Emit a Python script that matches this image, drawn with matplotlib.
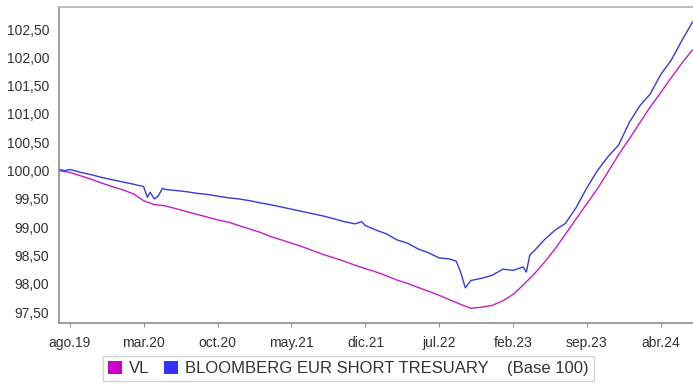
"""Evolucion del VL frente al indice Bloomberg EUR Short Treasury (base 100)"""

import matplotlib
matplotlib.use('agg')
import matplotlib.pyplot as plt
from matplotlib.patches import Patch
import pandas as pd

plt.rcParams['font.family'] = ['Liberation Sans', 'DejaVu Sans']

VL_DATES = pd.date_range("2019-07-01", "2024-07-01", freq="MS")
VL = [100.00, 99.97, 99.91, 99.85, 99.78, 99.72, 99.66, 99.59, 99.47,
      99.40, 99.38, 99.33, 99.28, 99.23, 99.18, 99.13, 99.09, 99.03,
      98.97, 98.91, 98.84, 98.78, 98.72, 98.66, 98.59, 98.52, 98.46,
      98.40, 98.33, 98.27, 98.21, 98.14, 98.07, 98.01, 97.94, 97.87,
      97.80, 97.72, 97.64, 97.57, 97.59, 97.62, 97.70, 97.82, 97.98,
      98.17, 98.38, 98.62, 98.88, 99.15, 99.42, 99.68, 99.98, 100.28,
      100.56, 100.85, 101.12, 101.38, 101.64, 101.90, 102.13]

BENCH_DATES = pd.to_datetime([
    "2019-07-01", "2019-07-20", "2019-08-01", "2019-08-15", "2019-09-01",
    "2019-10-01", "2019-11-01", "2019-12-01", "2020-01-01", "2020-02-01",
    "2020-03-01", "2020-03-12", "2020-03-20", "2020-04-01", "2020-04-12",
    "2020-04-25", "2020-05-01", "2020-06-01", "2020-07-01", "2020-08-01",
    "2020-09-01", "2020-10-01", "2020-11-01", "2020-12-01", "2021-01-01",
    "2021-02-01", "2021-03-01", "2021-04-01", "2021-05-01", "2021-06-01",
    "2021-07-01", "2021-08-01", "2021-09-01", "2021-10-01", "2021-11-01",
    "2021-11-20", "2021-12-01", "2022-01-01", "2022-02-01", "2022-03-01",
    "2022-04-01", "2022-05-01", "2022-06-01", "2022-07-01", "2022-08-01",
    "2022-08-20", "2022-09-01", "2022-09-15", "2022-10-01", "2022-11-01",
    "2022-12-01", "2023-01-01", "2023-02-01", "2023-03-01", "2023-03-10",
    "2023-03-20", "2023-04-01", "2023-05-01", "2023-06-01", "2023-07-01",
    "2023-08-01", "2023-09-01", "2023-10-01", "2023-11-01", "2023-12-01",
    "2024-01-01", "2024-02-01", "2024-03-01", "2024-04-01", "2024-05-01",
    "2024-06-01", "2024-07-01"])
BENCH = [100.02, 100.00, 100.02, 100.00, 99.97,
         99.93, 99.88, 99.84, 99.80, 99.76,
         99.72, 99.53, 99.62, 99.50, 99.55,
         99.69, 99.67, 99.65, 99.63, 99.60,
         99.58, 99.55, 99.52, 99.50, 99.47,
         99.43, 99.40, 99.36, 99.32, 99.28,
         99.24, 99.20, 99.15, 99.10, 99.06,
         99.10, 99.03, 98.95, 98.88, 98.78,
         98.72, 98.62, 98.55, 98.46, 98.44,
         98.40, 98.22, 97.93, 98.06, 98.10,
         98.15, 98.26, 98.24, 98.30, 98.21,
         98.51, 98.58, 98.78, 98.95, 99.07,
         99.35, 99.70, 100.00, 100.25, 100.45,
         100.85, 101.15, 101.35, 101.70, 101.95,
         102.30, 102.62]

TICK_DATES = pd.date_range("2019-08-01", periods=9, freq="7MS")
TICK_LABELS = ["ago.19", "mar.20", "oct.20", "may.21", "dic.21",
               "jul.22", "feb.23", "sep.23", "abr.24"]
Y_TICKS = [97.5, 98.0, 98.5, 99.0, 99.5, 100.0, 100.5, 101.0, 101.5,
           102.0, 102.5]

VL_COLOR = "#c41ec4"
BENCH_COLOR = "#3a3ad8"


def main():
    """Main function"""
    fig = plt.figure(figsize=(6.93, 3.85), dpi=100)
    ax = fig.add_axes([0.0851, 0.161, 0.915, 0.821])

    ax.plot(VL_DATES, VL, color=VL_COLOR, lw=1.0)
    ax.plot(BENCH_DATES, BENCH, color=BENCH_COLOR, lw=1.0)

    ax.set_xlim(pd.Timestamp("2019-07-01"), pd.Timestamp("2024-07-03"))
    ax.set_ylim(97.31, 102.89)
    ax.set_yticks(Y_TICKS)
    ax.set_yticklabels([f"{v:.2f}".replace(".", ",") for v in Y_TICKS])
    ax.set_xticks(TICK_DATES)
    ax.set_xticklabels(TICK_LABELS)

    ax.tick_params(axis="y", length=0, pad=7, labelsize=10, colors="#333333")
    ax.tick_params(axis="x", length=3, pad=6, labelsize=10, colors="#333333",
                   color="#999999")
    for side in ("left", "bottom", "top"):
        ax.spines[side].set_color("#8c8c8c")
        ax.spines[side].set_linewidth(1.2)
    ax.spines["top"].set_color("#b0b0b0")
    ax.spines["right"].set_visible(False)

    handles = [Patch(facecolor="#c800c8", edgecolor="none"),
               Patch(facecolor="#3232ff", edgecolor="none")]
    names = ["VL", "BLOOMBERG EUR SHORT TRESUARY    (Base 100)"]
    leg = fig.legend(handles, names, loc="lower left",
                     bbox_to_anchor=(103 / 693, 4 / 385), ncol=2,
                     fontsize=12, frameon=True, fancybox=False,
                     handlelength=0.85, handleheight=0.85, handletextpad=0.4,
                     columnspacing=0.9, borderpad=0.3, borderaxespad=0)
    leg.get_frame().set_edgecolor("#c8c8c8")
    leg.get_frame().set_linewidth(1.0)
    for text in leg.get_texts():
        text.set_color("#333333")

    fig.savefig("out.png", dpi=100)


if __name__ == "__main__":
    main()
